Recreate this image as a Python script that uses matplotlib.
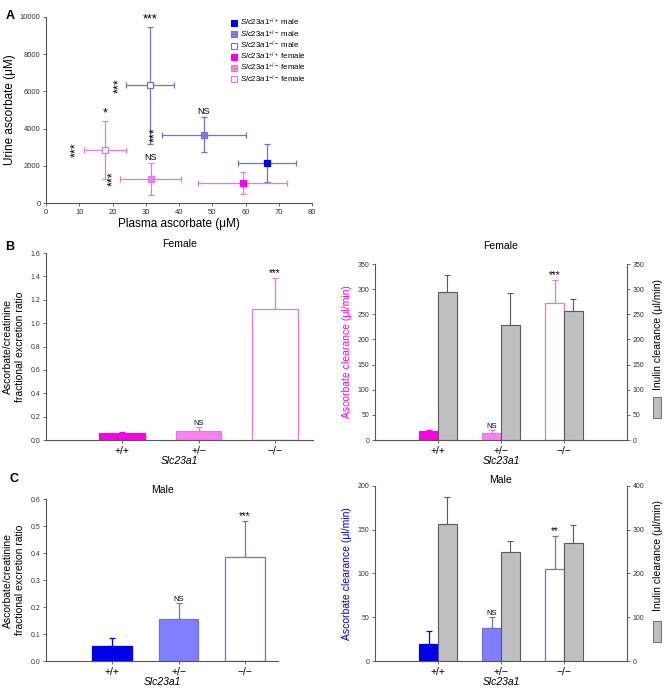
import matplotlib.pyplot as plt
import numpy as np
from matplotlib.lines import Line2D
from matplotlib.patches import Rectangle

plt.rcParams["font.family"] = ["Liberation Sans", "DejaVu Sans"]
plt.rcParams["mathtext.fontset"] = "custom"
plt.rcParams["mathtext.it"] = "Liberation Sans:italic"
plt.rcParams["mathtext.rm"] = "Liberation Sans"

# ---- panel A data: plasma vs urine ascorbate (mean, sd) ----
groups = ["+/+ male", "+/- male", "-/- male", "+/+ female", "+/- female", "-/- female"]
plasma = [66.5, 47.5, 31.3, 59.1, 31.5, 17.7]
plasma_err = [8.8, 12.5, 7.1, 13.4, 9.1, 6.4]
urine = [2150, 3680, 6330, 1070, 1300, 2850]
urine_err = [1000, 950, 3150, 610, 860, 1570]
sig_top = ["", "NS", "***", "", "NS", "*"]
sig_left = ["", "***", "***", "", "***", "***"]

genotypes = ["+/+", "+/\u2212", "\u2212/\u2212"]

# ---- panel B: female ----
f_ratio = [0.06, 0.08, 1.12]
f_ratio_err = [0.005, 0.035, 0.27]
f_ratio_sig = ["", "NS", "***"]
f_asc = [17, 13, 272]
f_asc_err = [2, 6, 47]
f_asc_sig = ["", "NS", "***"]
f_inulin = [294, 228, 256]
f_inulin_err = [35, 65, 25]

# ---- panel C: male ----
m_ratio = [0.055, 0.155, 0.385]
m_ratio_err = [0.03, 0.06, 0.135]
m_ratio_sig = ["", "NS", "***"]
m_asc = [19, 38, 105]
m_asc_err = [15, 12, 38]
m_asc_sig = ["", "NS", "**"]
m_inulin = [312, 250, 270]
m_inulin_err = [63, 25, 41]

blue = "#0000e6"
blue_lt = "#8080ff"
blue_edge = "#7373cc"
mag = "#ff00e6"
mag_lt = "#ff80f2"
mag_edge = "#e07be0"
gray = "#bfbfbf"
gray_edge = "#5a5a5a"
spine_c = "#555555"

fig = plt.figure(figsize=(6.65, 6.91), dpi=100)


def style(ax):
    for s in ["top", "right"]:
        ax.spines[s].set_visible(False)
    for s in ["left", "bottom", "right"]:
        ax.spines[s].set_color(spine_c)
        ax.spines[s].set_linewidth(0.8)
    ax.tick_params(axis="y", labelsize=5, length=2, width=0.6, colors=spine_c, labelcolor="#333333", pad=2)
    ax.tick_params(axis="x", labelsize=7.5, length=2, width=0.6, colors=spine_c, labelcolor="black", pad=2)


# ================= A =================
axA = fig.add_axes([0.0692, 0.7062, 0.4, 0.2692])
face = [blue, blue_lt, "white", mag, mag_lt, "white"]
edge = [blue, blue_edge, blue_edge, mag, mag_edge, mag_edge]
ecol = [blue_edge, blue_edge, blue_edge, mag_edge, mag_edge, mag_edge]
for i in range(len(groups)):
    axA.errorbar(plasma[i], urine[i], xerr=plasma_err[i], yerr=urine_err[i], fmt="none",
                 ecolor=ecol[i], elinewidth=0.9, capsize=2.5, capthick=0.9, zorder=2)
    axA.plot(plasma[i], urine[i], marker="s", ms=4.5, mfc=face[i], mec=edge[i], mew=0.9, ls="none", zorder=3)
    if i in (1, 4):
        axA.plot(plasma[i], urine[i], marker="+", ms=4.5, mec=edge[i], mew=0.6, ls="none", zorder=4)
    if sig_top[i]:
        axA.text(plasma[i], urine[i] + urine_err[i] + 60, sig_top[i], ha="center", va="bottom",
                 fontsize=6.5 if sig_top[i] == "NS" else 9)
    if sig_left[i]:
        axA.text(plasma[i] - plasma_err[i] - 0.5, urine[i], sig_left[i], ha="right", va="center",
                 rotation=90, fontsize=9)

axA.set_xlim(0, 80)
axA.set_ylim(0, 10000)
axA.set_xticks(np.arange(0, 81, 10))
axA.set_yticks(np.arange(0, 10001, 2000))
style(axA)
axA.tick_params(axis="both", labelsize=5.5, labelcolor="#333333")
axA.set_xlabel("Plasma ascorbate (\u03bcM)", fontsize=8.5, labelpad=2)
axA.set_ylabel("Urine ascorbate (\u03bcM)", fontsize=8.5, labelpad=3)

handles = []
for i in range(6):
    sq = Line2D([], [], marker="s", ms=4.5, mfc=face[i], mec=edge[i], mew=0.8, ls="none")
    if i in (1, 4):
        pl = Line2D([], [], marker="+", ms=4.5, mec=edge[i], mew=0.5, ls="none")
        handles.append((sq, pl))
    else:
        handles.append(sq)
sup = ["+/+", "+/\u2212", "\u2212/\u2212"]
leg_labels = [r"$\mathit{Slc23a1}^{" + s + "}$ " + sex for sex in ["male", "female"] for s in sup]
axA.legend(handles, leg_labels, loc="upper right", bbox_to_anchor=(1.0, 1.03), fontsize=5.7,
           frameon=False, handletextpad=0.3, labelspacing=0.0, borderaxespad=0.3, handlelength=1.0)
fig.text(0.008, 0.985, "A", fontsize=9, fontweight="bold", va="top")


# ================= bar helpers =================
def ratio_panel(rect, vals, errs, sigs, colors, edges, ylim, yticks, title):
    ax = fig.add_axes(rect)
    x = np.arange(3)
    ax.bar(x, vals, width=0.6, color=colors, edgecolor=edges, linewidth=0.9, zorder=2)
    for i in range(3):
        ax.errorbar(x[i], vals[i], yerr=[[0], [errs[i]]], fmt="none", ecolor=edges[i],
                    elinewidth=0.9, capsize=2, capthick=0.9, zorder=1)
        if sigs[i]:
            ax.text(x[i], vals[i] + errs[i], sigs[i], ha="center", va="bottom",
                    fontsize=5.5 if sigs[i] == "NS" else 7)
    ax.set_xlim(-1, 2.5)
    ax.set_ylim(*ylim)
    ax.set_yticks(yticks)
    ax.set_yticklabels(["{:.1f}".format(t) for t in yticks])
    ax.set_xticks(x)
    ax.set_xticklabels(genotypes)
    style(ax)
    ax.set_xlabel("Slc23a1", fontsize=7.5, style="italic", labelpad=0)
    ax.set_ylabel("Ascorbate/creatinine\nfractional excretion ratio", fontsize=7.5, labelpad=4)
    ax.set_title(title, fontsize=7.5, pad=4)
    return ax


def clear_panel(rect, asc, asc_err, sigs, colors, edges, inulin, inulin_err, ylim, yticks,
                ylim2, yticks2, title, lab_color, key_y, title_pad):
    ax = fig.add_axes(rect)
    ax2 = ax.twinx()
    x = np.arange(3)
    w = 0.3
    ax.bar(x - w / 2, asc, width=w, color=colors, edgecolor=edges, linewidth=0.9, zorder=2)
    for i in range(3):
        ax.errorbar(x[i] - w / 2, asc[i], yerr=[[0], [asc_err[i]]], fmt="none", ecolor=edges[i],
                    elinewidth=0.9, capsize=2, capthick=0.9, zorder=1)
        if sigs[i]:
            ax.text(x[i] - w / 2, asc[i] + asc_err[i], sigs[i], ha="center", va="bottom",
                    fontsize=5.5 if sigs[i] == "NS" else 7)
    ax2.bar(x + w / 2, inulin, width=w, color=gray, edgecolor=gray_edge, linewidth=0.8, zorder=2)
    ax2.errorbar(x + w / 2, inulin, yerr=[np.zeros(3), inulin_err], fmt="none", ecolor=gray_edge,
                 elinewidth=0.8, capsize=2, capthick=0.8, zorder=1)
    ax.set_xlim(-1, 3)
    ax.set_ylim(*ylim)
    ax.set_yticks(yticks)
    ax2.set_ylim(*ylim2)
    ax2.set_yticks(yticks2)
    ax.set_xticks(x)
    ax.set_xticklabels(genotypes)
    style(ax)
    style(ax2)
    ax2.spines["right"].set_visible(True)
    ax2.spines["left"].set_visible(False)
    ax2.spines["bottom"].set_visible(False)
    ax.set_xlabel("Slc23a1", fontsize=7.5, style="italic", labelpad=0)
    ax.set_ylabel("Ascorbate clearance (\u03bcl/min)", fontsize=7.5, color=lab_color, labelpad=4)
    ax2.set_ylabel("Inulin clearance (\u03bcl/min)", fontsize=7.5, labelpad=6, y=0.6)
    ax2.add_patch(Rectangle((1.105, key_y), 0.03, 0.12, transform=ax2.transAxes, clip_on=False,
                            facecolor=gray, edgecolor=gray_edge, linewidth=0.6))
    ax.set_title(title, fontsize=7.5, pad=title_pad)
    return ax


# ================= B =================
ratio_panel([0.0692, 0.3632, 0.4015, 0.2706], f_ratio, f_ratio_err, f_ratio_sig,
            [mag, mag_lt, "white"], [mag, mag_edge, mag_edge], (0, 1.6),
            np.arange(0, 1.61, 0.2), "Female")
clear_panel([0.5639, 0.3632, 0.3789, 0.2547], f_asc, f_asc_err, f_asc_sig,
            [mag, mag_lt, "white"], [mag, mag_edge, mag_edge], f_inulin, f_inulin_err,
            (0, 350), np.arange(0, 351, 50), (0, 350), np.arange(0, 351, 50), "Female", mag,
            0.125, 11)
fig.text(0.008, 0.643, "B", fontsize=9, fontweight="bold", va="center")

# ================= C =================
ratio_panel([0.0692, 0.0434, 0.3489, 0.2344], m_ratio, m_ratio_err, m_ratio_sig,
            [blue, blue_lt, "white"], [blue, blue_edge, blue_edge], (0, 0.6),
            np.arange(0, 0.61, 0.1), "Male")
clear_panel([0.5639, 0.0434, 0.3789, 0.2533], m_asc, m_asc_err, m_asc_sig,
            [blue, blue_lt, "white"], [blue, blue_edge, blue_edge], m_inulin, m_inulin_err,
            (0, 200), np.arange(0, 201, 50), (0, 400), np.arange(0, 401, 100), "Male", blue,
            0.11, 2)
fig.text(0.015, 0.307, "C", fontsize=9, fontweight="bold", va="center")

fig.savefig("out.png", dpi=100)
